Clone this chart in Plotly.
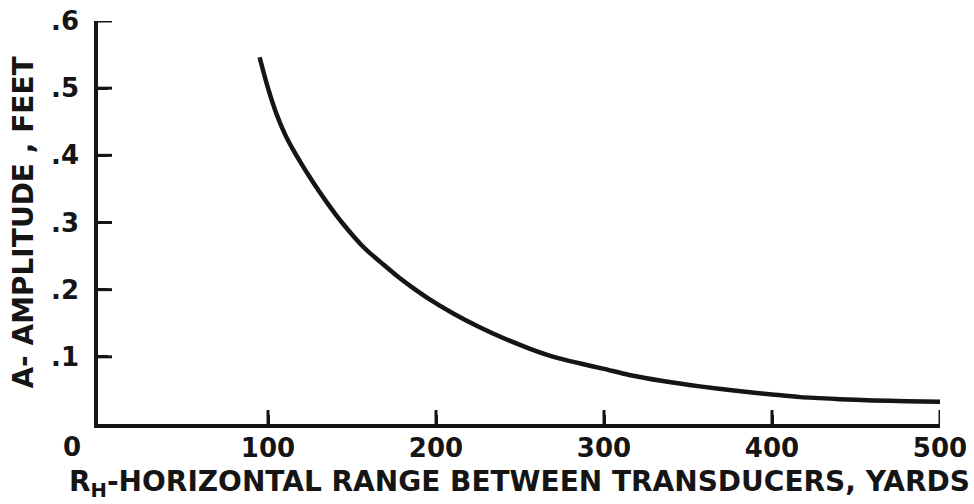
import plotly.graph_objects as go

# Data
range_yards = [95, 100, 105, 110, 115, 120, 125, 130, 135, 140, 145, 150, 155,
               160, 167, 177, 185, 196, 210, 226, 240, 256, 270, 286, 300, 315,
               335, 357, 380, 400, 417, 440, 460, 480, 500]
amplitude_ft = [0.546, 0.500, 0.462, 0.432, 0.408, 0.387, 0.367, 0.348, 0.330,
                0.313, 0.297, 0.282, 0.268, 0.256, 0.241, 0.220, 0.205, 0.186,
                0.165, 0.144, 0.128, 0.112, 0.100, 0.090, 0.082, 0.073, 0.064,
                0.056, 0.049, 0.044, 0.040, 0.037, 0.035, 0.034, 0.033]

x_tickvals = [100, 200, 300, 400, 500]
x_ticktext = ["100", "200", "300", "400", "500"]
y_tickvals = [0.1, 0.2, 0.3, 0.4, 0.5, 0.6]
y_ticktext = [".1", ".2", ".3", ".4", ".5", ".6"]

x_range = [-1.2, 500]
y_range = [0, 0.6]

ink = "#151515"
font_family = "DejaVu Sans"

fig = go.Figure()
fig.add_trace(go.Scatter(
    x=range_yards, y=amplitude_ft, mode="lines",
    line=dict(color=ink, width=4.5, shape="spline", smoothing=0.8),
    hoverinfo="skip", showlegend=False,
))

# Inward tick marks (half of each marker is clipped by the plot area)
fig.add_trace(go.Scatter(
    x=x_tickvals, y=[y_range[0]] * len(x_tickvals), mode="markers",
    marker=dict(symbol="line-ns", size=20, color=ink,
                line=dict(color=ink, width=3)),
    cliponaxis=True, hoverinfo="skip", showlegend=False,
))
fig.add_trace(go.Scatter(
    x=[x_range[0]] * len(y_tickvals), y=y_tickvals, mode="markers",
    marker=dict(symbol="line-ew", size=20, color=ink,
                line=dict(color=ink, width=3)),
    cliponaxis=True, hoverinfo="skip", showlegend=False,
))

fig.update_layout(
    width=974, height=504,
    margin=dict(l=98, r=34, t=21, b=80),
    paper_bgcolor="white", plot_bgcolor="white",
    font=dict(family=font_family, color=ink),
    xaxis=dict(
        range=x_range, showgrid=False, zeroline=False, automargin=False,
        showline=True, linecolor=ink, linewidth=3.5,
        ticks="inside", ticklen=9, tickwidth=3, tickcolor=ink,
        tickvals=x_tickvals, ticktext=x_ticktext,
        tickfont=dict(size=26, family=font_family, color=ink, weight="bold"),
        ticklabelstandoff=-2,
    ),
    yaxis=dict(
        range=y_range, showgrid=False, zeroline=False, automargin=False,
        showline=True, linecolor=ink, linewidth=3.5,
        ticks="inside", ticklen=10, tickwidth=3, tickcolor=ink,
        tickvals=y_tickvals, ticktext=y_ticktext,
        tickfont=dict(size=26, family=font_family, color=ink, weight="bold"),
        ticklabelstandoff=10,
    ),
    annotations=[
        dict(text="0", xref="paper", yref="paper", x=-0.031, y=-0.056,
             xanchor="center", yanchor="middle", showarrow=False,
             font=dict(size=26, family=font_family, color=ink, weight="bold")),
        dict(text="R<sub>H</sub>-HORIZONTAL RANGE BETWEEN TRANSDUCERS, YARDS",
             xref="paper", yref="paper", x=0.5, y=-0.147,
             xanchor="center", yanchor="middle", showarrow=False,
             font=dict(size=28, family=font_family, color=ink, weight="bold")),
        dict(text="A- AMPLITUDE , FEET", xref="paper", yref="paper",
             x=-0.089, y=0.5, textangle=-90,
             xanchor="center", yanchor="middle", showarrow=False,
             font=dict(size=28, family=font_family, color=ink, weight="bold")),
    ],
)

fig.write_html("out.html")
